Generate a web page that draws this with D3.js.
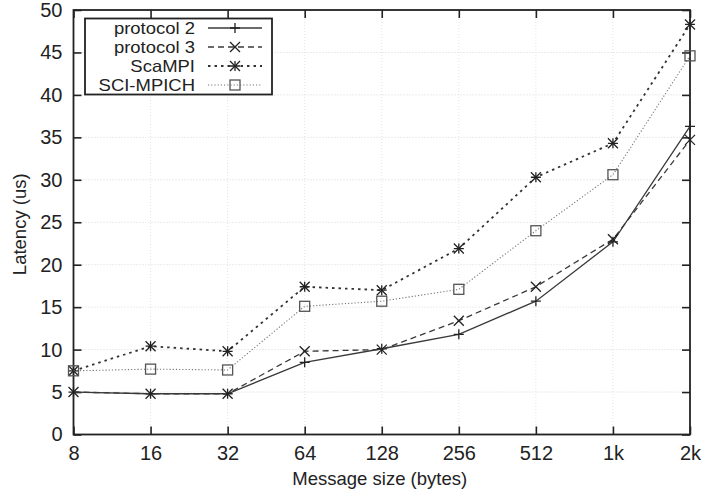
<!DOCTYPE html>
<html>
<head>
<meta charset="utf-8">
<script src="https://cdn.jsdelivr.net/npm/d3@7"></script>
<style>
  body { margin: 0; background: #fff; }
  text { fill: #222; }
</style>
</head>
<body>
<svg class="chart" width="718" height="497" font-family="Liberation Sans, Arial, sans-serif"></svg>
<script>
const sizes = ['8', '16', '32', '64', '128', '256', '512', '1k', '2k']
const yTicks = [0, 5, 10, 15, 20, 25, 30, 35, 40, 45, 50]

const protocol2 = [5.0, 4.8, 4.8, 8.5, 10.1, 11.8, 15.7, 22.7, 36.3]
const protocol3 = [5.0, 4.8, 4.8, 9.8, 10.0, 13.4, 17.4, 23.0, 34.7]
const scampi = [7.5, 10.4, 9.8, 17.4, 17.0, 21.9, 30.3, 34.3, 48.3]
const sciMpich = [7.5, 7.7, 7.6, 15.1, 15.7, 17.1, 24.0, 30.6, 44.6]

const series = [
  {name: 'protocol 2', values: protocol2, marker: 'plus', color: '#3a3a3a', width: 1.3, dash: null},
  {name: 'protocol 3', values: protocol3, marker: 'cross', color: '#3a3a3a', width: 1.3, dash: '6,4'},
  {name: 'ScaMPI', values: scampi, marker: 'star', color: '#333', width: 1.8, dash: '2.5,4'},
  {name: 'SCI-MPICH', values: sciMpich, marker: 'square', color: '#777', width: 1.1, dash: '1.2,2'}
]

const svg = d3.select('.chart')
const margin = {top: 10, left: 73.5, right: 28, bottom: 62.5}
const width = +svg.attr('width')
const height = +svg.attr('height')
const innerWidth = width - margin.left - margin.right
const innerHeight = height - margin.top - margin.bottom

const x = d3.scalePoint().domain(sizes).range([0, innerWidth])
const y = d3.scaleLinear().domain([0, 50]).range([innerHeight, 0])

const g = svg.append('g').attr('transform', `translate(${margin.left},${margin.top})`)

// faint grid
g.append('g').selectAll('line').data(yTicks.slice(1, -1)).enter().append('line')
  .attr('x1', 0).attr('x2', innerWidth)
  .attr('y1', d => y(d)).attr('y2', d => y(d))
  .attr('stroke', '#d8d8d8').attr('stroke-width', 1).attr('stroke-dasharray', '1,2')
g.append('g').selectAll('line').data(sizes.slice(1, -1)).enter().append('line')
  .attr('x1', d => x(d)).attr('x2', d => x(d))
  .attr('y1', 0).attr('y2', innerHeight)
  .attr('stroke', '#e2e2e2').attr('stroke-width', 1).attr('stroke-dasharray', '1,2')

// axes, gnuplot style: ticks inside, mirrored
const tickLen = 8
const axLeft = g.append('g').call(d3.axisLeft(y).tickValues(yTicks).tickSizeInner(-tickLen).tickSizeOuter(0).tickPadding(11))
const axRight = g.append('g').attr('transform', `translate(${innerWidth},0)`)
  .call(d3.axisRight(y).tickValues(yTicks).tickSizeInner(-tickLen).tickSizeOuter(0))
const axBottom = g.append('g').attr('transform', `translate(0,${innerHeight})`)
  .call(d3.axisBottom(x).tickSizeInner(-tickLen).tickSizeOuter(0).tickPadding(11))
const axTop = g.append('g').call(d3.axisTop(x).tickSizeInner(-tickLen).tickSizeOuter(0))

axRight.selectAll('text').remove()
axTop.selectAll('text').remove()

;[axLeft, axRight, axBottom, axTop].forEach(a => {
  a.attr('font-size', 20).attr('font-family', null)
  a.select('.domain').remove()
  a.selectAll('.tick line').attr('stroke', '#222').attr('stroke-width', 1.6)
  a.selectAll('text').attr('fill', '#222')
})

g.append('rect')
  .attr('width', innerWidth).attr('height', innerHeight)
  .attr('fill', 'none').attr('stroke', '#222').attr('stroke-width', 1.8)

// lines
const line = d3.line().x((d, i) => x(sizes[i])).y(d => y(d))

function marker(sel, type, color) {
  const s = 5
  if (type === 'plus' || type === 'star') {
    sel.append('path').attr('d', `M${-s},0H${s}M0,${-s}V${s}`)
      .attr('stroke', color).attr('stroke-width', 1.3).attr('fill', 'none')
  }
  if (type === 'cross' || type === 'star') {
    sel.append('path').attr('d', `M${-s},${-s}L${s},${s}M${-s},${s}L${s},${-s}`)
      .attr('stroke', color).attr('stroke-width', 1.3).attr('fill', 'none')
  }
  if (type === 'square') {
    sel.append('rect').attr('x', -5).attr('y', -5).attr('width', 10).attr('height', 10)
      .attr('stroke', '#555').attr('stroke-width', 1.3).attr('fill', 'none')
  }
}

series.forEach(s => {
  g.append('path').datum(s.values)
    .attr('d', line)
    .attr('fill', 'none')
    .attr('stroke', s.color)
    .attr('stroke-width', s.width)
    .attr('stroke-dasharray', s.dash)
  g.append('g').selectAll('g').data(s.values).enter().append('g')
    .attr('transform', (d, i) => `translate(${x(sizes[i])},${y(d)})`)
    .each(function () { marker(d3.select(this), s.marker, s.marker === 'square' ? '#555' : '#222') })
})

// legend
const legend = svg.append('g').attr('transform', 'translate(85,18.5)')
legend.append('rect').attr('width', 187).attr('height', 76)
  .attr('fill', '#fff').attr('stroke', '#222').attr('stroke-width', 1.8)
series.forEach((s, i) => {
  const row = legend.append('g').attr('transform', `translate(0,${9.5 + i * 19})`)
  row.append('text').attr('transform', 'translate(110,0) scale(1.12,1)').attr('dy', '0.35em')
    .attr('text-anchor', 'end').attr('font-size', 16.5)
    .text(s.name)
  row.append('line').attr('x1', 123).attr('x2', 177)
    .attr('stroke', s.color).attr('stroke-width', s.width).attr('stroke-dasharray', s.dash)
  const m = row.append('g').attr('transform', 'translate(150,0)')
  marker(m, s.marker, s.marker === 'square' ? '#555' : '#222')
})

// axis titles
svg.append('text')
  .attr('x', margin.left + innerWidth / 2 - 2).attr('y', 485)
  .attr('text-anchor', 'middle').attr('font-size', 18.5)
  .text('Message size (bytes)')
svg.append('text')
  .attr('transform', `translate(20,${margin.top + innerHeight / 2 + 2}) rotate(-90)`)
  .attr('text-anchor', 'middle').attr('dy', '0.35em').attr('font-size', 18.5)
  .text('Latency (us)')
</script>
</body>
</html>
